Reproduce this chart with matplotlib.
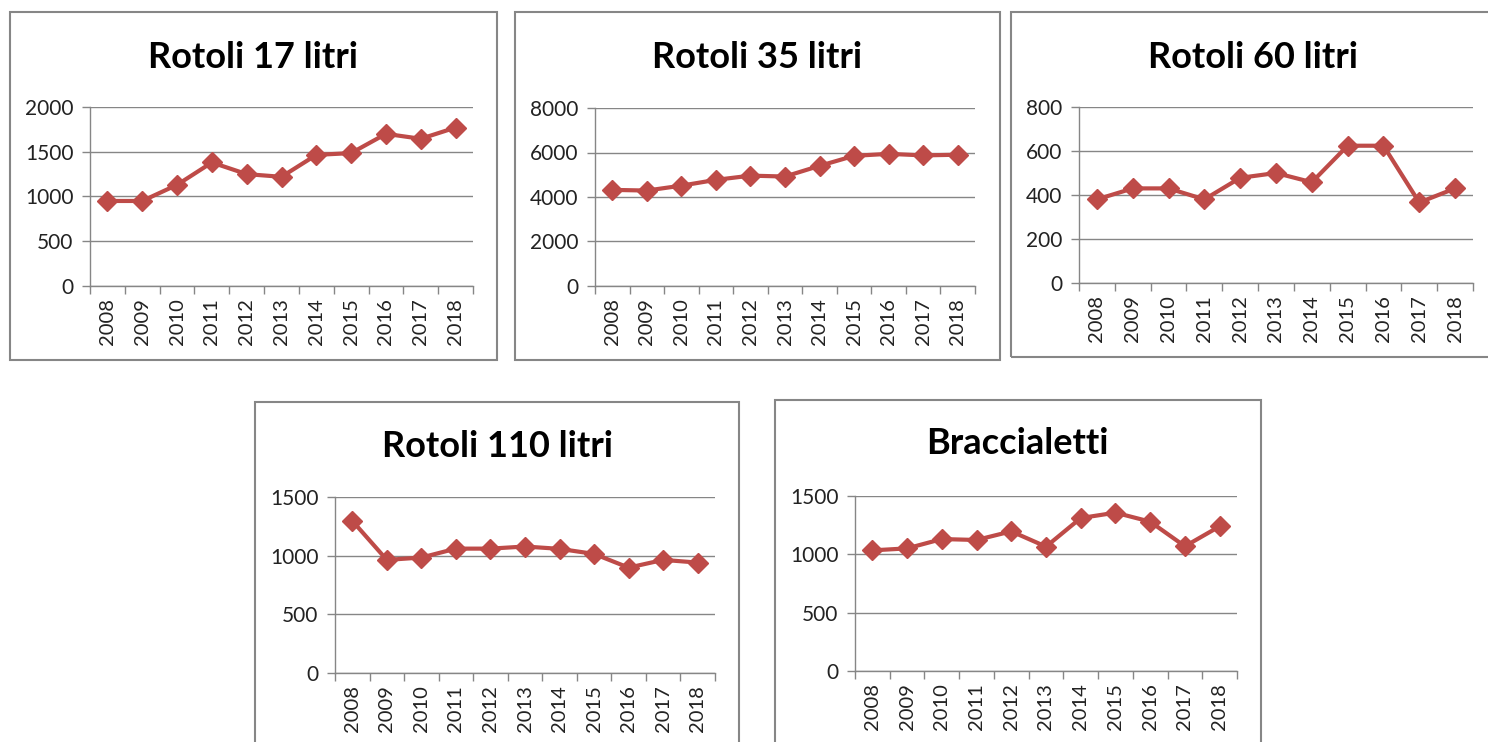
import matplotlib
matplotlib.use("Agg")
import matplotlib.pyplot as plt
from matplotlib.patches import Rectangle

plt.rcParams['font.family'] = ['Lato', 'DejaVu Sans']

# data
years = ['2008', '2009', '2010', '2011', '2012', '2013', '2014', '2015', '2016', '2017', '2018']

rotoli_17 = [950, 950, 1130, 1380, 1250, 1220, 1465, 1485, 1700, 1645, 1770]
rotoli_35 = [4320, 4290, 4510, 4770, 4960, 4920, 5400, 5850, 5940, 5870, 5900]
rotoli_60 = [380, 430, 430, 380, 478, 500, 458, 624, 624, 366, 430]
rotoli_110 = [1297, 964, 984, 1060, 1060, 1078, 1058, 1015, 898, 964, 941]
braccialetti = [1034, 1051, 1131, 1123, 1197, 1066, 1311, 1357, 1280, 1069, 1240]

titles = ['Rotoli 17 litri', 'Rotoli 35 litri', 'Rotoli 60 litri', 'Rotoli 110 litri', 'Braccialetti']
series = [rotoli_17, rotoli_35, rotoli_60, rotoli_110, braccialetti]
ymax = [2000, 8000, 800, 1500, 1500]
ystep = [500, 2000, 200, 500, 500]

W, H = 1488, 742
fig = plt.figure(figsize=(W / 100, H / 100), dpi=100)

# pixel layout: chart box, plot area, title centre
boxes = [(10, 12, 497, 360), (515, 12, 1000, 360), (1011, 12, 1490, 357),
         (255, 402, 739, 745), (775, 400, 1261, 745)]
plots = [(90, 107, 473, 286), (595, 108, 975, 286), (1079, 107, 1473, 283),
         (335, 497, 715, 673), (855, 496, 1237, 671)]
title_pos = [(253, 57), (757, 57), (1253, 57), (497, 446), (1017, 444)]

red = '#BE4B48'
grey = '#868686'

for i in range(5):
    x0, y0, x1, y1 = boxes[i]
    fig.patches.append(Rectangle((x0 / W, 1 - y1 / H), (x1 - x0) / W, (y1 - y0) / H,
                                 transform=fig.transFigure, fill=False,
                                 edgecolor=grey, linewidth=1.5))
    px0, py0, px1, py1 = plots[i]
    ax = fig.add_axes([px0 / W, 1 - py1 / H, (px1 - px0) / W, (py1 - py0) / H])
    xs = list(range(len(years)))
    ax.plot(xs, series[i], color=red, linewidth=3, marker='D', markersize=10,
            markeredgecolor=red, zorder=3)
    ax.set_xlim(-0.5, len(years) - 0.5)
    ax.set_ylim(0, ymax[i])
    ax.set_yticks(range(0, ymax[i] + 1, ystep[i]))
    ax.set_xticks(xs)
    ax.set_xticklabels(years, rotation=90)
    ax.set_xticks([x - 0.5 for x in range(len(years) + 1)], minor=True)
    ax.tick_params(axis='x', which='major', length=0, pad=9, labelsize=14.5, labelcolor='#222222')
    ax.tick_params(axis='x', which='minor', length=6, color=grey, width=1)
    ax.tick_params(axis='y', length=6, color=grey, width=1, pad=6, labelsize=15, labelcolor='#222222')
    ax.grid(axis='y', color=grey, linewidth=1)
    ax.set_axisbelow(True)
    for s in ['top', 'right']:
        ax.spines[s].set_visible(False)
    for s in ['left', 'bottom']:
        ax.spines[s].set_color(grey)
        ax.spines[s].set_linewidth(1)
    tx, ty = title_pos[i]
    fig.text(tx / W, 1 - ty / H, titles[i], ha='center', va='center',
             fontsize=26, fontweight='bold', color='black')

fig.savefig('out.png', dpi=100)
